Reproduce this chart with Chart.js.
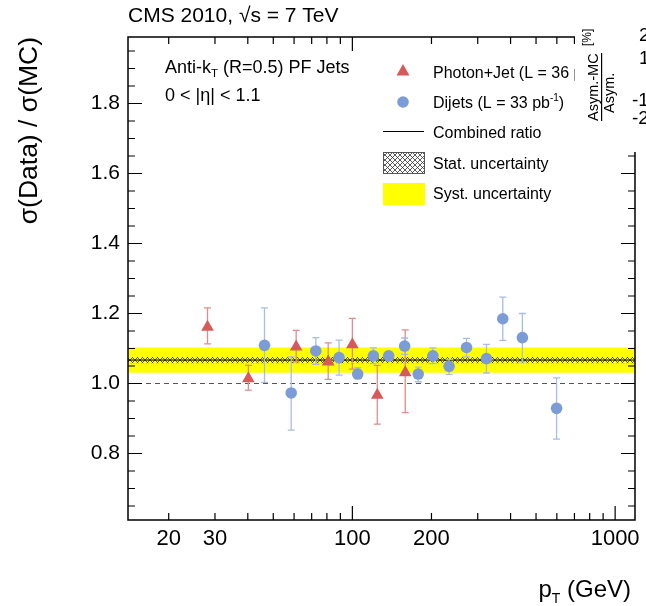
<!DOCTYPE html>
<html>
<head>
<meta charset="utf-8">
<script src="https://cdn.jsdelivr.net/npm/chart.js@4.4.0/dist/chart.umd.min.js"></script>
<style>
  html, body { margin: 0; padding: 0; background: #fff; }
  canvas { display: block; }
</style>
</head>
<body>
<canvas id="ratio-chart" width="646" height="606"></canvas>
<script>
'use strict';

// Photon+Jet measurements
const photonPt = [28.1, 40.2, 61.1, 80.9, 100, 124.4, 158.9];
const photonRatio = [1.161, 1.014, 1.105, 1.062, 1.111, 0.967, 1.031];
const photonErrUp = [0.055, 0.038, 0.047, 0.054, 0.075, 0.085, 0.122];
const photonErrDown = [0.048, 0.033, 0.043, 0.050, 0.070, 0.083, 0.114];

// Dijet measurements
const dijetPt = [46.3, 58.5, 72.6, 89.0, 104.8, 120.2, 137.5, 158.1, 178.1, 202.5, 233.4, 271.9, 323.8, 373.6, 443.6, 598.6];
const dijetRatio = [1.109, 0.973, 1.093, 1.074, 1.027, 1.079, 1.079, 1.107, 1.027, 1.079, 1.049, 1.103, 1.071, 1.185, 1.131, 0.929];
const dijetErrUp = [0.107, 0.103, 0.038, 0.050, 0.018, 0.023, 0.012, 0.023, 0.020, 0.023, 0.020, 0.026, 0.041, 0.062, 0.069, 0.087];
const dijetErrDown = [0.106, 0.106, 0.038, 0.050, 0.013, 0.022, 0.012, 0.024, 0.022, 0.022, 0.023, 0.027, 0.041, 0.062, 0.069, 0.088];

// combined fit and its uncertainties
const combinedRatio = 1.067;
const statUnc = 0.009;
const systUnc = 0.036;
const unityRatio = 1.0;

// axes
const X_MIN = 14, X_MAX = 1190;
const Y_MIN = 0.61, Y_MAX = 1.99;
const xTickLabels = [20, 30, 100, 200, 1000];
const xMajorTicks = [100, 1000];
const xMinorTicks = [20, 30, 40, 50, 60, 70, 80, 90, 200, 300, 400, 500, 600, 700, 800, 900];
const yTickLabels = [0.8, 1.0, 1.2, 1.4, 1.6, 1.8];

const FONT = "'Liberation Sans', Arial, Helvetica, sans-serif";
const RED = '#d65a5a';
const RED_ERR = '#e08c8c';
const BLUE = '#7c9cd8';
const BLUE_ERR = '#a8bde6';

function toPoints(xs, ys) {
  return xs.map((x, i) => ({x: x, y: ys[i]}));
}

function hLine(y) {
  return [{x: X_MIN, y: y}, {x: X_MAX, y: y}];
}

function makeHatch(bg) {
  const c = document.createElement('canvas');
  c.width = 5; c.height = 5;
  const g = c.getContext('2d');
  if (bg) { g.fillStyle = bg; g.fillRect(0, 0, 5, 5); }
  g.strokeStyle = '#333';
  g.lineWidth = 0.8;
  g.beginPath();
  g.moveTo(0, 0); g.lineTo(5, 5);
  g.moveTo(5, 0); g.lineTo(0, 5);
  g.stroke();
  return g.createPattern(c, 'repeat');
}

// draws text pieces one after another: [text, size, dy]
function richText(ctx, parts, x, y, align) {
  let w = 0;
  parts.forEach(p => { ctx.font = p[1] + 'px ' + FONT; w += ctx.measureText(p[0]).width; });
  let cx = align === 'right' ? x - w : x;
  ctx.textAlign = 'left';
  parts.forEach(p => {
    ctx.font = p[1] + 'px ' + FONT;
    ctx.fillText(p[0], cx, y + (p[2] || 0));
    cx += ctx.measureText(p[0]).width;
  });
}

// error bars, drawn just before their markers
const errorBars = {
  id: 'errorBars',
  beforeDatasetDraw(chart, args) {
    const ds = chart.data.datasets[args.index];
    if (!ds.errUp) return;
    const ctx = chart.ctx, xs = chart.scales.x, ys = chart.scales.y;
    ctx.save();
    ctx.strokeStyle = ds.errColor;
    ctx.lineWidth = 1.3;
    ds.data.forEach((p, i) => {
      const px = xs.getPixelForValue(p.x);
      const hi = ys.getPixelForValue(p.y + ds.errUp[i]);
      const lo = ys.getPixelForValue(p.y - ds.errDown[i]);
      ctx.beginPath();
      ctx.moveTo(px, hi); ctx.lineTo(px, lo);
      ctx.moveTo(px - 3.5, hi); ctx.lineTo(px + 3.5, hi);
      ctx.moveTo(px - 3.5, lo); ctx.lineTo(px + 3.5, lo);
      ctx.stroke();
    });
    ctx.restore();
  }
};

// ROOT style frame with inward ticks on all four sides
const frame = {
  id: 'frame',
  afterDatasetsDraw(chart) {
    const ctx = chart.ctx, xs = chart.scales.x, ys = chart.scales.y;
    const {left, right, top, bottom} = chart.chartArea;
    ctx.save();
    ctx.strokeStyle = '#000';
    ctx.lineWidth = 1.5;
    ctx.strokeRect(left, top, right - left, bottom - top);
    ctx.lineWidth = 1.2;
    ctx.beginPath();
    const xt = (v, len) => {
      const px = xs.getPixelForValue(v);
      ctx.moveTo(px, bottom); ctx.lineTo(px, bottom - len);
      ctx.moveTo(px, top); ctx.lineTo(px, top + len);
    };
    xMajorTicks.forEach(v => xt(v, 14));
    xMinorTicks.forEach(v => xt(v, 7));
    for (let k = 13; k <= 39; k++) {
      const v = k * 0.05;
      const py = ys.getPixelForValue(v);
      const len = (k % 4 === 0) ? 14 : 7;
      ctx.moveTo(left, py); ctx.lineTo(left + len, py);
      ctx.moveTo(right, py); ctx.lineTo(right - len, py);
    }
    ctx.stroke();
    ctx.restore();
  },
  afterDraw(chart) {
    const ctx = chart.ctx;
    ctx.save();
    ctx.fillStyle = '#000';
    ctx.textBaseline = 'alphabetic';

    // title
    richText(ctx, [['CMS 2010, \u221As = 7 TeV', 21]], 128, 22);

    // labels inside the frame
    richText(ctx, [['Anti-k', 18], ['T', 11.5, 4], [' (R=0.5) PF Jets', 18]], 165, 73);
    richText(ctx, [['0 < |\u03B7| < 1.1', 18]], 165, 101);

    // legend
    ctx.fillStyle = RED;
    ctx.beginPath();
    ctx.moveTo(403, 64); ctx.lineTo(409.5, 75.5); ctx.lineTo(396.5, 75.5); ctx.closePath();
    ctx.fill();
    ctx.fillStyle = BLUE;
    ctx.beginPath(); ctx.arc(403, 102, 5.8, 0, Math.PI * 2); ctx.fill();
    ctx.strokeStyle = '#000'; ctx.lineWidth = 1;
    ctx.beginPath(); ctx.moveTo(383, 131.5); ctx.lineTo(424, 131.5); ctx.stroke();
    ctx.fillStyle = makeHatch('#fff');
    ctx.fillRect(383, 152, 42, 22);
    ctx.strokeStyle = '#555';
    ctx.strokeRect(383.5, 152.5, 41, 21);
    ctx.fillStyle = '#ffff00';
    ctx.fillRect(383, 183, 42, 22);

    ctx.fillStyle = '#000';
    richText(ctx, [['Photon+Jet (L = 36 pb', 16], ['-1', 10, -7], [')', 16]], 433, 78);
    richText(ctx, [['Dijets (L = 33 pb', 16], ['-1', 10, -7], [')', 16]], 433, 108);
    richText(ctx, [['Combined ratio', 16]], 433, 138);
    richText(ctx, [['Stat. uncertainty', 16]], 433, 169);
    richText(ctx, [['Syst. uncertainty', 16]], 433, 199);

    // axis titles
    richText(ctx, [['p', 24], ['T', 14, 6], [' (GeV)', 24]], 631, 597, 'right');
    ctx.save();
    ctx.translate(37, 37);
    ctx.rotate(-Math.PI / 2);
    richText(ctx, [['\u03C3(Data) / \u03C3(MC)', 26.5]], 0, 0, 'right');
    ctx.restore();

    // neighbouring panel cut in at the top right
    ctx.fillStyle = '#fff';
    ctx.fillRect(575, 0, 71, 152);
    ctx.fillStyle = '#000';
    ctx.save();
    ctx.translate(601, 121);
    ctx.rotate(-Math.PI / 2);
    richText(ctx, [['Asym.-MC', 14.5]], 0, -3);
    richText(ctx, [['Asym.', 14.5]], 8, 13);
    richText(ctx, [['[%]', 12]], 75, -10);
    ctx.fillRect(0, 0, 68, 1.2);
    ctx.restore();
    richText(ctx, [['2', 19]], 639, 41);
    richText(ctx, [['1', 19]], 639, 64);
    richText(ctx, [['-1', 19]], 632, 106);
    richText(ctx, [['-2', 19]], 632, 124);
    ctx.restore();
  }
};

new Chart(document.querySelector('#ratio-chart'), {
  type: 'scatter',
  data: {
    datasets: [
      {
        type: 'line', label: 'Syst. uncertainty',
        data: hLine(combinedRatio + systUnc),
        fill: '+1', backgroundColor: '#ffff00',
        borderWidth: 0, pointRadius: 0, order: 10
      },
      {
        type: 'line', data: hLine(combinedRatio - systUnc),
        borderWidth: 0, pointRadius: 0, fill: false, order: 10
      },
      {
        type: 'line', label: 'Stat. uncertainty',
        data: hLine(combinedRatio + statUnc),
        fill: '+1', backgroundColor: makeHatch(null),
        borderWidth: 0, pointRadius: 0, order: 9
      },
      {
        type: 'line', data: hLine(combinedRatio - statUnc),
        borderWidth: 0, pointRadius: 0, fill: false, order: 9
      },
      {
        type: 'line', label: 'Combined ratio',
        data: hLine(combinedRatio),
        borderColor: '#000', borderWidth: 1, pointRadius: 0, fill: false, order: 8
      },
      {
        type: 'line', data: hLine(unityRatio),
        borderColor: '#555', borderWidth: 1.2, borderDash: [5, 4],
        pointRadius: 0, fill: false, order: 8
      },
      {
        label: 'Photon+Jet',
        data: toPoints(photonPt, photonRatio),
        errUp: photonErrUp, errDown: photonErrDown, errColor: RED_ERR,
        pointStyle: 'triangle', pointRadius: 7.3, borderWidth: 0,
        backgroundColor: RED, borderColor: RED, order: 2
      },
      {
        label: 'Dijets',
        data: toPoints(dijetPt, dijetRatio),
        errUp: dijetErrUp, errDown: dijetErrDown, errColor: BLUE_ERR,
        pointStyle: 'circle', pointRadius: 5.8, borderWidth: 0,
        backgroundColor: BLUE, borderColor: BLUE, order: 1
      }
    ]
  },
  options: {
    responsive: false,
    animation: false,
    devicePixelRatio: 1,
    layout: {padding: {top: 37, right: 10, left: 0, bottom: 0}},
    plugins: {
      legend: {display: false},
      tooltip: {enabled: false}
    },
    scales: {
      x: {
        type: 'logarithmic',
        min: X_MIN, max: X_MAX,
        grid: {display: false, drawTicks: false},
        border: {display: false},
        ticks: {
          color: '#000', padding: 6, maxRotation: 0, autoSkip: false,
          font: {family: FONT, size: 22},
          callback: v => String(v)
        },
        afterBuildTicks: s => { s.ticks = xTickLabels.map(v => ({value: v})); },
        afterFit: s => { s.height = 86; }
      },
      y: {
        type: 'linear',
        min: Y_MIN, max: Y_MAX,
        grid: {display: false, drawTicks: false},
        border: {display: false},
        ticks: {
          color: '#000', padding: 8,
          font: {family: FONT, size: 21},
          callback: v => v.toFixed(1)
        },
        afterBuildTicks: s => { s.ticks = yTickLabels.map(v => ({value: v})); },
        afterFit: s => { s.width = 128; }
      }
    }
  },
  plugins: [errorBars, frame]
});
</script>
</body>
</html>
